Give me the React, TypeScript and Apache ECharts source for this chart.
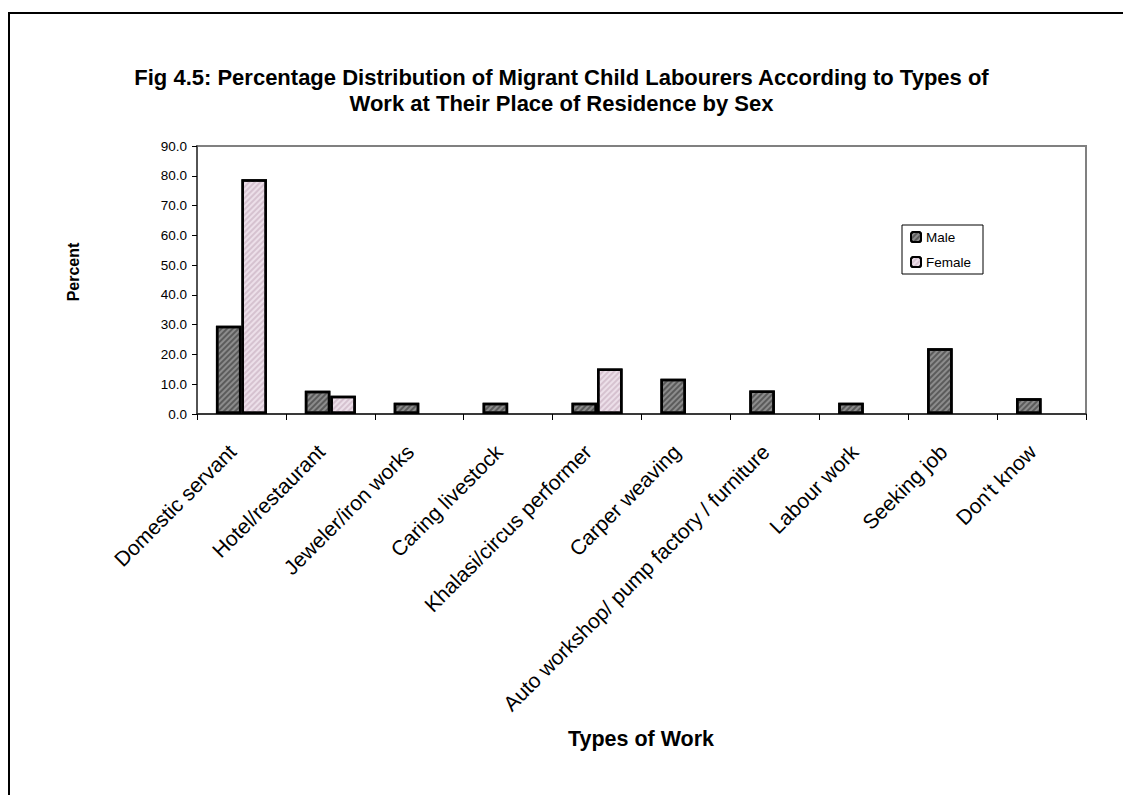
import React, { useEffect, useRef } from "react";
import * as echarts from "echarts";

// Types of work, in axis order
const categories = [
  "Domestic servant",
  "Hotel/restaurant",
  "Jeweler/iron works",
  "Caring livestock",
  "Khalasi/circus performer",
  "Carper weaving",
  "Auto workshop/ pump factory / furniture",
  "Labour work",
  "Seeking job",
  "Don't know",
];

// Percent of migrant child labourers by sex (null = no bar)
const maleValues = [29.6, 7.8, 3.8, 3.8, 3.8, 11.8, 7.9, 3.8, 22.1, 5.3];
const femaleValues = [78.8, 6.1, null, null, 15.3, null, null, null, null, null];

const seriesNames = ["Male", "Female"];
const titleLines = [
  "Fig 4.5: Percentage Distribution of Migrant Child Labourers According to Types of",
  "Work at Their Place of Residence by Sex",
];
const yAxisTitle = "Percent";
const xAxisTitle = "Types of Work";

const FONT = "'Liberation Sans', Arial, Helvetica, sans-serif";

export default function App() {
  const ref = useRef<HTMLDivElement>(null);

  useEffect(() => {
    if (!ref.current) return;
    const chart = echarts.init(ref.current, undefined, { renderer: "svg" });

    const hatch = (color: string) => ({
      symbol: "rect",
      symbolSize: 1,
      color,
      dashArrayX: [1, 0],
      dashArrayY: [1.5, 1.5],
      rotation: -Math.PI / 4,
    });

    chart.setOption({
      animation: false,
      backgroundColor: "#fff",
      textStyle: { fontFamily: FONT, color: "#000" },
      graphic: [
        // outer frame (left and top edges)
        {
          type: "polyline",
          silent: true,
          shape: { points: [[9, 795], [9, 13], [1123, 13]] },
          style: { stroke: "#000", lineWidth: 2, fill: "none" },
        },
        {
          type: "text",
          left: "center",
          top: 64,
          style: {
            text: titleLines.join("\n"),
            font: `bold 22px ${FONT}`,
            fill: "#000",
            textAlign: "center",
            lineHeight: 26,
          },
        },
        {
          type: "text",
          x: 73,
          y: 272,
          rotation: Math.PI / 2,
          style: {
            text: yAxisTitle,
            font: `bold 16px ${FONT}`,
            fill: "#000",
            textAlign: "center",
            textVerticalAlign: "middle",
          },
        },
        {
          type: "text",
          x: 641,
          y: 739,
          style: {
            text: xAxisTitle,
            font: `bold 21.5px ${FONT}`,
            fill: "#000",
            textAlign: "center",
            textVerticalAlign: "middle",
          },
        },
      ],
      legend: {
        data: seriesNames,
        orient: "vertical",
        left: 902,
        top: 225,
        itemWidth: 10,
        itemHeight: 10,
        itemGap: 11,
        padding: [5, 12, 5, 8],
        borderColor: "#000",
        borderWidth: 1,
        backgroundColor: "#fff",
        textStyle: { fontSize: 13.5, fontFamily: FONT, color: "#000" },
        itemStyle: { borderWidth: 2, borderColor: "#000" },
      },
      grid: {
        left: 197,
        right: 37,
        top: 146,
        bottom: 381,
        show: true,
        borderColor: "#808080",
        borderWidth: 2,
        backgroundColor: "#fff",
      },
      xAxis: {
        type: "category",
        data: categories,
        axisLine: { lineStyle: { color: "#222", width: 1.5 } },
        axisTick: { show: true, length: 6, lineStyle: { color: "#000", width: 1 } },
        axisLabel: {
          interval: 0,
          rotate: 45,
          margin: 25,
          padding: [0, 13, 0, 0],
          fontSize: 21,
          fontFamily: FONT,
          color: "#000",
        },
      },
      yAxis: {
        type: "value",
        min: 0,
        max: 90,
        interval: 10,
        axisLine: { show: true, lineStyle: { color: "#444", width: 1.5 } },
        axisTick: { show: true, length: 5, lineStyle: { color: "#000" } },
        splitLine: { show: false },
        axisLabel: {
          margin: 10,
          fontSize: 13.5,
          fontFamily: FONT,
          color: "#000",
          formatter: (v: number) => v.toFixed(1),
        },
      },
      series: [
        {
          name: seriesNames[0],
          type: "bar",
          data: maleValues,
          barWidth: "28.7%",
          barGap: "0%",
          itemStyle: {
            color: "#8c8c8c",
            borderColor: "#000",
            borderWidth: 2.5,
            decal: hatch("rgba(50,50,50,0.55)"),
          },
        },
        {
          name: seriesNames[1],
          type: "bar",
          data: femaleValues,
          barWidth: "28.7%",
          barGap: "0%",
          itemStyle: {
            color: "#ecdfe9",
            borderColor: "#000",
            borderWidth: 2.5,
            decal: hatch("rgba(170,140,160,0.35)"),
          },
        },
      ],
    });

    return () => chart.dispose();
  }, []);

  return (
    <div
      ref={ref}
      style={{ position: "absolute", left: 0, top: 0, width: 1123, height: 795 }}
    />
  );
}
